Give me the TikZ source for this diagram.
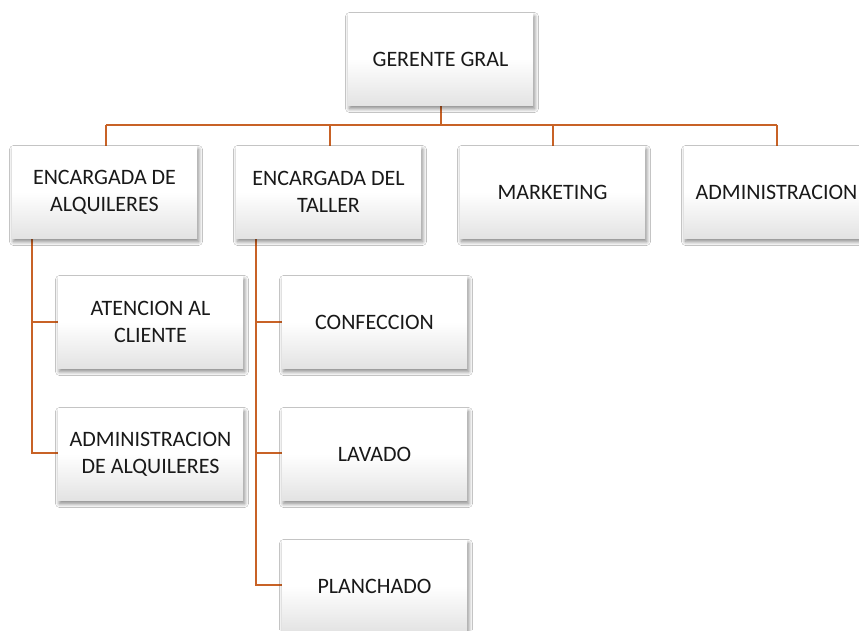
\documentclass[tikz,border=0pt]{standalone}
\usepackage{fontspec}
\setmainfont{Carlito}
\usetikzlibrary{shadows.blur}
\definecolor{linkc}{RGB}{200,98,38}
\tikzset{
  orgbox/.style={minimum width=185pt, minimum height=92pt, inner sep=0pt,
    align=center, font=\fontsize{22}{27}\selectfont, text=black!90,
    top color=white, bottom color=black!11, middle color=white,
    blur shadow={shadow xshift=1.5pt, shadow yshift=-3.5pt, shadow blur radius=4pt, shadow blur steps=8, shadow opacity=50}},
  link/.style={draw=linkc, line width=2.3pt}
}
\begin{document}
\begin{tikzpicture}[x=1pt,y=-1pt]
\useasboundingbox (0,0) rectangle (859,630);
\clip (0,0) rectangle (859,630);
\fill[white] (0,0) rectangle (859,630);
% coordinates
\coordinate (busL) at (106,125);
\coordinate (busR) at (777,125);
\coordinate (b1) at (330,125);
\coordinate (b3) at (553,125);
\coordinate (g) at (441,125);
\coordinate (a1) at (32,322);
\coordinate (a2) at (32,453);
\coordinate (t1) at (256,322);
\coordinate (t2) at (256,453);
\coordinate (t3) at (256,585);
% connectors (behind boxes)
\draw[link] (busL) -- (busR);
\draw[link] (441,105) -- (g);
\draw[link] (busL) -- (106,146);
\draw[link] (b1) -- (330,146);
\draw[link] (b3) -- (553,146);
\draw[link] (busR) -- (777,146);
\draw[link] (32,238) -- (a2) -- (58,453);
\draw[link] (a1) -- (58,322);
\draw[link] (256,238) -- (t3) -- (282,585);
\draw[link] (t1) -- (282,322);
\draw[link] (t2) -- (282,453);
% boxes
\node[orgbox] (gg) at (440.5,59) {GERENTE GRAL};
\node[orgbox] (alq) at (104.5,192) {ENCARGADA DE\\ALQUILERES};
\node[orgbox] (tal) at (328.5,192) {ENCARGADA DEL\\TALLER};
\node[orgbox] (mkt) at (552.5,192) {MARKETING};
\node[orgbox] (adm) at (776.5,192) {ADMINISTRACION};
\node[orgbox] (ate) at (150.5,322) {ATENCION AL\\CLIENTE};
\node[orgbox] (ada) at (150.5,454) {ADMINISTRACION\\DE ALQUILERES};
\node[orgbox] (con) at (374.5,322) {CONFECCION};
\node[orgbox] (lav) at (374.5,454) {LAVADO};
\node[orgbox] (pla) at (374.5,586) {PLANCHADO};
\end{tikzpicture}
\end{document}
